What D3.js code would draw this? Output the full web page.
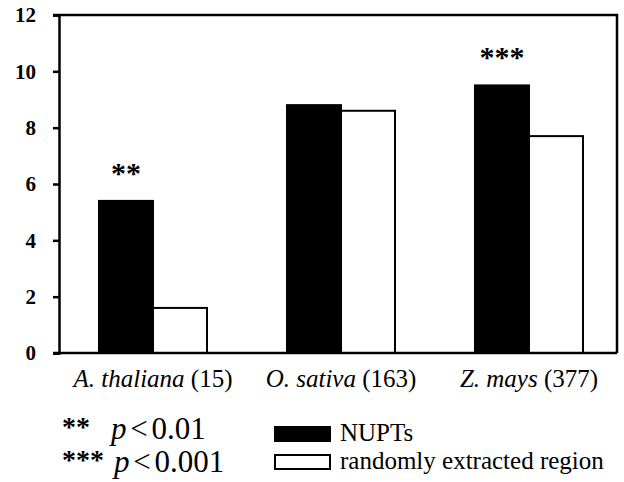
<!DOCTYPE html>
<html>
<head>
<meta charset="utf-8">
<script src="https://cdn.jsdelivr.net/npm/d3@7/dist/d3.min.js"></script>
<style>
  html, body { margin: 0; padding: 0; background: #fff; }
  svg { display: block; }
</style>
</head>
<body>
<svg id="chart" width="624" height="482"></svg>
<script>
// Species (italic name) with the number of loci in parentheses
const species = ["A. thaliana", "O. sativa", "Z. mays"];
const counts = ["(15)", "(163)", "(377)"];
// Series values
const seriesNames = ["NUPTs", "randomly extracted region"];
const nupts = [5.4, 8.8, 9.5];
const randomRegion = [1.6, 8.6, 7.7];
// Significance marks per species
const stars = ["**", "", "***"];
// Y axis ticks
const yTicks = [0, 2, 4, 6, 8, 10, 12];
// Significance legend
const sigMarks = ["**", "***"];
const sigText = ["0.01", "0.001"];

const FONT = '"Times New Roman"';
const svg = d3.select("#chart");

const plot = { left: 59, right: 617, top: 15, bottom: 353 };

const x = d3.scaleBand()
  .domain(species)
  .range([plot.left, 623])
  .paddingInner(0.4255)
  .paddingOuter(0.2128);

const xs = d3.scaleBand()
  .domain([0, 1])
  .range([0, x.bandwidth()]);

const y = d3.scaleLinear().domain([0, 12]).range([plot.bottom, plot.top]);

const fills = ["#000", "#fff"];
const data = species.map((s, i) => ({ s, i, vals: [nupts[i], randomRegion[i]] }));

function label(sel, size, weight, styleName) {
  sel.style("font-family", FONT).style("font-size", size + "px");
  if (weight) sel.style("font-weight", weight);
  if (styleName) sel.style("font-style", styleName);
  return sel;
}

// Bars
const g = svg.append("g");
data.forEach(d => {
  d.vals.forEach((v, k) => {
    g.append("rect")
      .attr("x", x(d.s) + xs(k))
      .attr("y", y(v))
      .attr("width", xs.bandwidth())
      .attr("height", y(0) - y(v))
      .attr("fill", fills[k])
      .attr("stroke", "#000")
      .attr("stroke-width", 2);
  });
});

// Significance stars above NUPT bars
data.forEach(d => {
  if (!stars[d.i]) return;
  label(svg.append("text"), 30, "bold")
    .attr("x", x(d.s) + xs(0) + xs.bandwidth() / 2)
    .attr("y", y(d.vals[0]) - 18)
    .attr("text-anchor", "middle")
    .text(stars[d.i]);
});

// Frame: top and right borders
svg.append("path")
  .attr("d", `M${plot.left - 6},${plot.top}H${plot.right}V${plot.bottom}`)
  .attr("fill", "none")
  .attr("stroke", "#000")
  .attr("stroke-width", 2.5);

// Y axis
const yAxis = svg.append("g")
  .attr("transform", `translate(${plot.left},0)`)
  .call(d3.axisLeft(y).tickValues(yTicks).tickSize(6).tickPadding(17).tickFormat(d3.format("d")));
yAxis.attr("font-family", null).attr("font-size", null);
yAxis.select(".domain").attr("stroke-width", 2.5);
yAxis.selectAll(".tick line").attr("stroke-width", 2.5);
label(yAxis.selectAll(".tick text"), 21, "bold");

// X axis line
svg.append("line")
  .attr("x1", plot.left - 6).attr("x2", plot.right)
  .attr("y1", plot.bottom).attr("y2", plot.bottom)
  .attr("stroke", "#000").attr("stroke-width", 2.5);

// Category labels
species.forEach((s, i) => {
  const t = label(svg.append("text"), 25)
    .attr("x", x(s) + x.bandwidth() / 2)
    .attr("y", 387)
    .attr("text-anchor", "middle");
  t.append("tspan").style("font-style", "italic").text(s);
  t.append("tspan").text(" " + counts[i]);
});

// Significance legend
sigMarks.forEach((m, i) => {
  const yy = 439 + i * 33;
  label(svg.append("text"), 28, "bold")
    .attr("x", 62).attr("y", yy - 3)
    .text(m);
  const t = label(svg.append("text"), 31)
    .attr("x", 111 + i * 3).attr("y", yy)
    .style("word-spacing", "-4px");
  t.append("tspan").style("font-style", "italic").text("p");
  t.append("tspan").text(" < " + sigText[i]);
});

// Series legend
seriesNames.forEach((n, i) => {
  const yy = 427 + i * 28;
  svg.append("rect")
    .attr("x", 275).attr("y", yy)
    .attr("width", 55).attr("height", 14)
    .attr("fill", fills[i])
    .attr("stroke", "#000").attr("stroke-width", 2);
  label(svg.append("text"), 25)
    .attr("x", 340).attr("y", yy + 14)
    .text(n);
});
</script>
</body>
</html>
